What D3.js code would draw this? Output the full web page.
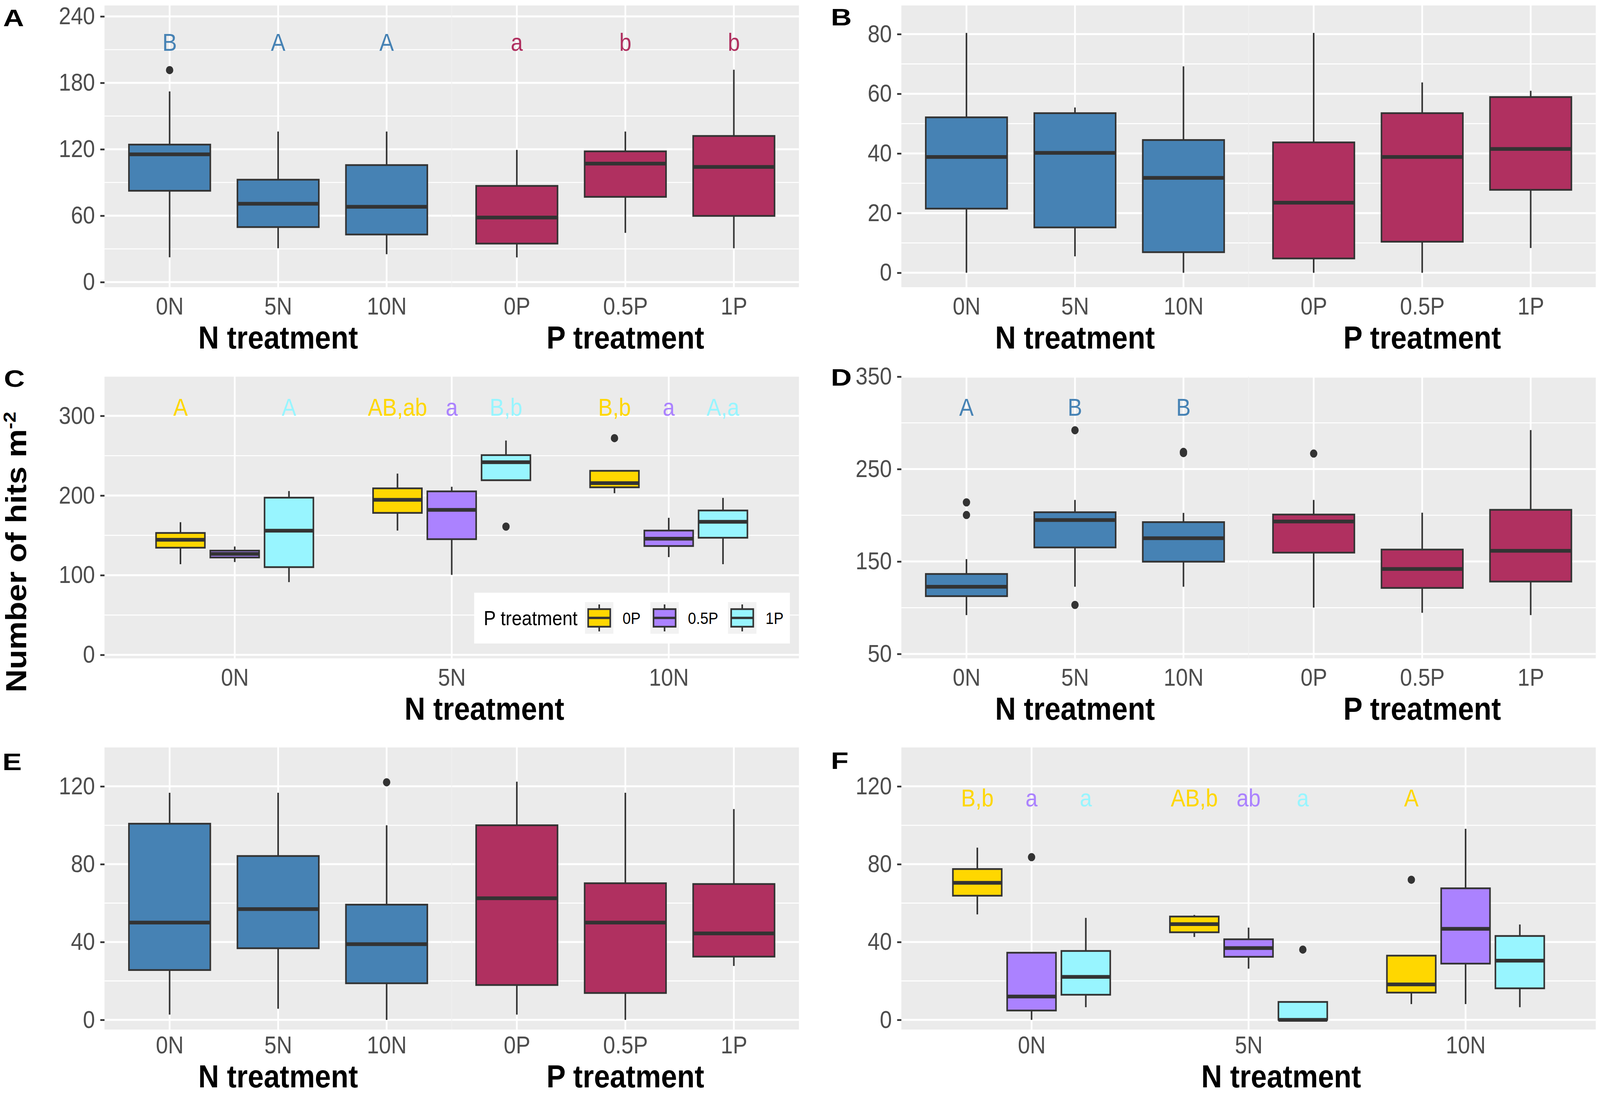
<!DOCTYPE html>
<html><head><meta charset="utf-8">
<script src="https://cdn.jsdelivr.net/npm/d3@7"></script>
<style>html,body{margin:0;padding:0;background:#fff;overflow:hidden}
#chart{display:block;width:100vw;height:100vh}</style>
</head><body>
<svg id="chart" viewBox="0 0 4562 2800" preserveAspectRatio="none" xmlns="http://www.w3.org/2000/svg"></svg>
<script>
// ---------------- DATA ----------------
const nTreat = ["0N", "5N", "10N"];
const pTreat = ["0P", "0.5P", "1P"];
// each box: [lower whisker, Q1, median, Q3, upper whisker]
// Panel A
const aN = [[22.4,82.5,115.4,124.2,172.2],[30.6,49.7,70.8,92.5,136],[25.2,43,68,105.7,136]];
const aNout = [[191.5],[],[]];
const aP = [[22.3,34.8,58.3,86.9,119.4],[44.5,77,107,118.1,136],[30.6,59.8,104,132,191.8]];
const aPout = [[],[],[]];
const aNlet = ["B","A","A"];
const aPlet = ["a","b","b"];
// Panel B
const bN = [[0,21.5,38.8,52.1,80.4],[5.5,15.2,40.2,53.5,55.4],[0,6.9,31.8,44.5,69.2]];
const bNout = [[],[],[]];
const bP = [[0,4.8,23.5,43.7,80.4],[0,10.4,38.8,53.5,63.8],[8.3,27.8,41.5,58.9,61]];
const bPout = [[],[],[]];
// Panel C (by N treatment, one array per P level)
const c0P  = [[113.8,134.5,144.5,153,166.5],[156,178.2,194.6,209,227.5],[202.9,210.3,215.5,231,231]];
const c0Pout = [[],[],[272]];
const c05P = [[116.5,122.2,126.7,130.8,136],[100.4,145.2,182,205.2,211],[122.7,136.6,145.8,156,172]];
const c05Pout = [[],[],[]];
const c1P  = [[91.3,110.1,155.8,197.3,205.6],[219,219.2,241.8,250.7,269],[113.8,147,167,181.2,197]];
const c1Pout = [[],[161],[]];
const c0Plet = ["A","AB,ab","B,b"];
const c05Plet = ["","a","a"];
const c1Plet = ["A","B,b","A,a"];
// Panel D
const dN = [[92,112.5,122.7,136.5,152.6],[122.7,165.2,194.9,203.3,216.6],[122.7,149.8,175.2,192.6,202.6]];
const dNout = [[214,200.3],[292,103],[268.6,267.3]];
const dP = [[100.2,159.6,193.3,200.8,216.6],[94.5,121.4,141.9,162.9,202.8],[92,128.3,161.6,205.9,292.2]];
const dPout = [[266.8],[],[]];
const dNlet = ["A","B","B"];
const dPlet = ["","",""];
// Panel E
const eN = [[2.7,25.6,50,100.8,116.7],[5.7,36.8,56.9,84.2,116.7],[0,18.8,38.9,59.2,100]];
const eNout = [[],[],[122.1]];
const eP = [[2.7,17.9,62.5,100,122.4],[0,13.8,50,70.2,116.7],[27.7,32.5,44.4,69.8,108.3]];
const ePout = [[],[],[]];
// Panel F
const f0P  = [[54.2,63.8,70.4,77.5,88.5],[42.6,45,49.2,53.1,53.9],[8.1,14,18.2,33,33]];
const f0Pout = [[],[],[72]];
const f05P = [[0,4.8,12,34.5,34.5],[26.3,32.4,36.9,41.4,47.4],[8.1,28.9,46.8,67.6,98.2]];
const f05Pout = [[83.6],[],[]];
const f1P  = [[6.5,12.9,22.1,35.4,52.4],[0,0,0,9.2,9.2],[6.5,16.2,30.4,43.1,49]];
const f1Pout = [[],[36.1],[]];
const f0Plet = ["B,b","AB,b","A"];
const f05Plet = ["a","ab",""];
const f1Plet = ["a","a",""];
// tick values
const aTicks = [0,60,120,180,240], aMinor = [30,90,150,210];
const bTicks = [0,20,40,60,80], bMinor = [10,30,50,70];
const cTicks = [0,100,200,300], cMinor = [50,150,250];
const dTicks = [50,150,250,350], dMinor = [100,200,300];
const eTicks = [0,40,80,120], eMinor = [20,60,100];
const fTicks = [0,40,80,120], fMinor = [20,60,100];

// ---------------- STYLE / LAYOUT ----------------
const FONT = "'Liberation Sans', Arial, Helvetica, sans-serif";
const LINE = "#333333";
const colN = "#4682B4", colP = "#B03060";
const pColors = ["#FFD700", "#AB82FF", "#98F5FF"];
const cols = [[298, 2278], [2570, 4550]];
const rows = [[14, 735], [964, 1685], [1913, 2635]];
const titleOffset = [157, 157, 148];
const tickPad = [26, 26, 17];
const svg = d3.select("#chart");

function base(col, row, yDom, ticks, minor) {
  const [x0, x1] = cols[col], [y0, y1] = rows[row];
  const g = svg.append("g");
  const y = d3.scaleLinear().domain(yDom).range([y1, y0]);
  return {g, x0, x1, y0, y1, y, ticks, minor, tOff: titleOffset[row], tPad: tickPad[row]};
}
function hGrid(p) {
  p.g.selectAll(null).data(p.minor).join("line")
    .attr("x1", p.x0).attr("x2", p.x1).attr("y1", d => p.y(d)).attr("y2", d => p.y(d))
    .attr("stroke", "#fff").attr("stroke-width", 2.6);
  p.g.selectAll(null).data(p.ticks).join("line")
    .attr("x1", p.x0).attr("x2", p.x1).attr("y1", d => p.y(d)).attr("y2", d => p.y(d))
    .attr("stroke", "#fff").attr("stroke-width", 5);
}
function vGrid(p, xs) {
  p.g.selectAll(null).data(xs).join("line")
    .attr("x1", d => d).attr("x2", d => d).attr("y1", p.y0).attr("y2", p.y1)
    .attr("stroke", "#fff").attr("stroke-width", 5);
}
function yAxis(p) {
  const ax = p.g.append("g").attr("transform", `translate(${p.x0},0)`)
    .call(d3.axisLeft(p.y).tickValues(p.ticks).tickSize(12).tickPadding(15));
  ax.select(".domain").remove();
  ax.attr("font-family", FONT).attr("font-size", 62);
  ax.selectAll("line").attr("stroke", LINE).attr("stroke-width", 4.5);
  ax.selectAll("text").attr("fill", "#4D4D4D");
}
function xAxis(p, xs) {
  const ax = p.g.append("g").attr("transform", `translate(0,${p.y1})`)
    .call(d3.axisBottom(xs).tickSize(0).tickPadding(p.tPad));
  ax.select(".domain").remove();
  ax.attr("font-family", FONT).attr("font-size", 62);
  ax.selectAll("text").attr("fill", "#4D4D4D");
}
function title(p, x, txt) {
  p.g.append("text").attr("x", x).attr("y", p.y1 + p.tOff).attr("text-anchor", "middle")
    .attr("font-family", FONT).attr("font-weight", "bold").attr("font-size", 82)
    .attr("fill", "#000").text(txt);
}
function box(g, y, cx, w, s, out, fill) {
  g.append("line").attr("x1", cx).attr("x2", cx).attr("y1", y(s[0])).attr("y2", y(s[1]))
    .attr("stroke", LINE).attr("stroke-width", 4.5);
  g.append("line").attr("x1", cx).attr("x2", cx).attr("y1", y(s[3])).attr("y2", y(s[4]))
    .attr("stroke", LINE).attr("stroke-width", 4.5);
  g.append("rect").attr("x", cx - w / 2).attr("width", w)
    .attr("y", y(s[3])).attr("height", Math.max(0, y(s[1]) - y(s[3])))
    .attr("fill", fill).attr("stroke", LINE).attr("stroke-width", 4.5);
  g.append("line").attr("x1", cx - w / 2).attr("x2", cx + w / 2).attr("y1", y(s[2])).attr("y2", y(s[2]))
    .attr("stroke", LINE).attr("stroke-width", 9.5);
  g.selectAll(null).data(out).join("circle").attr("cx", cx).attr("cy", d => y(d))
    .attr("r", 10.5).attr("fill", LINE);
}
function letter(g, x, yv, txt, color) {
  if (!txt) return;
  g.append("text").attr("x", x).attr("y", yv).attr("dy", "0.35em").attr("text-anchor", "middle")
    .attr("font-family", FONT).attr("font-size", 62).attr("fill", color).text(txt);
}

// two facets (N treatment | P treatment)
function facetPanel(p, facets, labelY) {
  const mid = (p.x0 + p.x1) / 2;
  p.g.append("rect").attr("x", p.x0).attr("y", p.y0).attr("width", mid - p.x0).attr("height", p.y1 - p.y0).attr("fill", "#EBEBEB");
  p.g.append("rect").attr("x", mid).attr("y", p.y0).attr("width", p.x1 - mid).attr("height", p.y1 - p.y0).attr("fill", "#EBEBEB");
  hGrid(p);
  p.g.append("line").attr("x1", mid).attr("x2", mid).attr("y1", p.y0).attr("y2", p.y1)
    .attr("stroke", "#F1F1F1").attr("stroke-width", 2);
  const bounds = [[p.x0, mid], [mid, p.x1]];
  facets.forEach((f, i) => {
    const x = d3.scalePoint().domain(f.cats).range(bounds[i]).padding(0.6);
    vGrid(p, f.cats.map(c => x(c)));
    const w = 0.75 * x.step();
    f.cats.forEach((c, j) => {
      box(p.g, p.y, x(c), w, f.stats[j], f.out[j], f.fill);
      if (f.letters) letter(p.g, x(c), p.y(labelY), f.letters[j], f.fill);
    });
    xAxis(p, x);
    title(p, x(f.cats[1]), f.title);
  });
  yAxis(p);
}

// N treatment categories dodged by P treatment
function groupedPanel(p, groups, labelY) {
  p.g.append("rect").attr("x", p.x0).attr("y", p.y0).attr("width", p.x1 - p.x0).attr("height", p.y1 - p.y0).attr("fill", "#EBEBEB");
  hGrid(p);
  const x = d3.scalePoint().domain(nTreat).range([p.x0, p.x1]).padding(0.6);
  vGrid(p, nTreat.map(c => x(c)));
  const slot = 0.25 * x.step(), w = slot * 0.9;
  nTreat.forEach((c, j) => {
    groups.forEach((gr, k) => {
      const cx = x(c) + (k - 1) * slot;
      box(p.g, p.y, cx, w, gr.stats[j], gr.out[j], gr.fill);
      letter(p.g, cx, p.y(labelY), gr.letters[j], gr.fill);
    });
  });
  xAxis(p, x);
  title(p, (p.x0 + p.x1) / 2 + 93, "N treatment");
  yAxis(p);
}

// ---------------- PANELS ----------------
const pA = base(0, 0, [-4.58, 249.87], aTicks, aMinor);
facetPanel(pA, [
  {cats: nTreat, stats: aN, out: aNout, letters: aNlet, fill: colN, title: "N treatment"},
  {cats: pTreat, stats: aP, out: aPout, letters: aPlet, fill: colP, title: "P treatment"}], 216.7);

const pB = base(1, 0, [-4.83, 89.6], bTicks, bMinor);
facetPanel(pB, [
  {cats: nTreat, stats: bN, out: bNout, letters: null, fill: colN, title: "N treatment"},
  {cats: pTreat, stats: bP, out: bPout, letters: null, fill: colP, title: "P treatment"}], 0);

const pC = base(0, 1, [-4.4, 349.2], cTicks, cMinor);
groupedPanel(pC, [
  {stats: c0P, out: c0Pout, letters: c0Plet, fill: pColors[0]},
  {stats: c05P, out: c05Pout, letters: c05Plet, fill: pColors[1]},
  {stats: c1P, out: c1Pout, letters: c1Plet, fill: pColors[2]}], 311);

const pD = base(1, 1, [45.2, 350], dTicks, dMinor);
facetPanel(pD, [
  {cats: nTreat, stats: dN, out: dNout, letters: dNlet, fill: colN, title: "N treatment"},
  {cats: pTreat, stats: dP, out: dPout, letters: dPlet, fill: colP, title: "P treatment"}], 317);

const pE = base(0, 2, [-4.98, 140], eTicks, eMinor);
facetPanel(pE, [
  {cats: nTreat, stats: eN, out: eNout, letters: null, fill: colN, title: "N treatment"},
  {cats: pTreat, stats: eP, out: ePout, letters: null, fill: colP, title: "P treatment"}], 0);

const pF = base(1, 2, [-4.98, 140], fTicks, fMinor);
groupedPanel(pF, [
  {stats: f0P, out: f0Pout, letters: f0Plet, fill: pColors[0]},
  {stats: f05P, out: f05Pout, letters: f05Plet, fill: pColors[1]},
  {stats: f1P, out: f1Pout, letters: f1Plet, fill: pColors[2]}], 114);

// ---------------- LEGEND (panel C) ----------------
(function legend() {
  const lg = svg.append("g");
  const lx = 1352, ly = 1517, lw = 900, lh = 130;
  lg.append("rect").attr("x", lx).attr("y", ly).attr("width", lw).attr("height", lh).attr("fill", "#fff");
  lg.append("text").attr("x", lx + 27).attr("y", ly + 83).attr("font-family", FONT).attr("font-size", 52)
    .attr("fill", "#000").text("P treatment");
  let kx = 1668;
  const ky = ly + 24, ks = 81;
  pTreat.forEach((lab, i) => {
    lg.append("rect").attr("x", kx).attr("y", ky).attr("width", ks).attr("height", ks).attr("fill", "#F2F2F2");
    const cx = kx + ks / 2;
    lg.append("line").attr("x1", cx).attr("x2", cx).attr("y1", ky + 6).attr("y2", ky + ks - 6)
      .attr("stroke", LINE).attr("stroke-width", 4.5);
    lg.append("rect").attr("x", kx + 9).attr("y", ky + 18).attr("width", ks - 18).attr("height", ks - 36)
      .attr("fill", pColors[i]).attr("stroke", LINE).attr("stroke-width", 4.5);
    lg.append("line").attr("x1", kx + 9).attr("x2", kx + ks - 9).attr("y1", ky + ks / 2).attr("y2", ky + ks / 2)
      .attr("stroke", LINE).attr("stroke-width", 6);
    const t = lg.append("text").attr("x", kx + ks + 26).attr("y", ky + 56).attr("font-family", FONT)
      .attr("font-size", 42).attr("fill", "#000").text(lab);
    kx = kx + ks + 26 + t.node().getComputedTextLength() + 28;
  });
})();

// ---------------- Y TITLE & PANEL LETTERS ----------------
const yt = svg.append("text").attr("transform", "translate(75,1413) rotate(-90)")
  .attr("text-anchor", "middle").attr("font-family", FONT).attr("font-weight", "bold")
  .attr("font-size", 82).attr("fill", "#000");
yt.append("tspan").text("Number of hits m");
yt.append("tspan").attr("dy", -30).attr("font-size", 50).text("-2");

const panelTags = [["A", 9, 67], ["B", 2369, 65], ["C", 11, 990], ["D", 2369, 987], ["E", 7, 1971], ["F", 2369, 1968]];
panelTags.forEach(([t, x, y]) => {
  svg.append("text").attr("transform", `translate(${x},${y}) scale(1.33,1)`)
    .attr("font-family", FONT).attr("font-weight", "bold").attr("font-size", 62).attr("fill", "#000").text(t);
});
</script>
</body></html>
